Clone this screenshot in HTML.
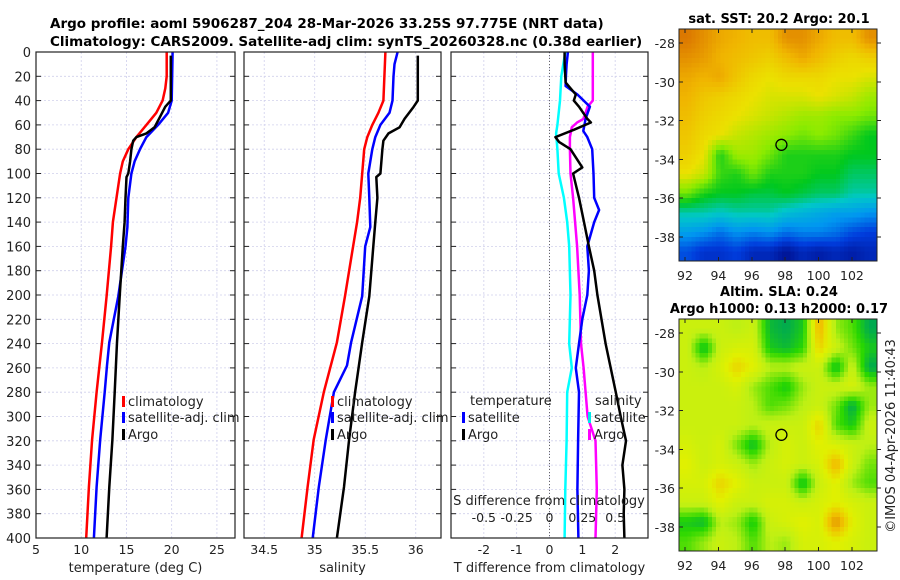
<!DOCTYPE html>
<html><head><meta charset="utf-8"><style>
html,body{margin:0;padding:0;background:#fff;}
svg{display:block;font-family:"DejaVu Sans","Liberation Sans",sans-serif;}
</style></head><body>
<svg id="fig" width="900" height="580" viewBox="0 0 900 580" xmlns="http://www.w3.org/2000/svg">
<text x="50" y="28" font-size="13.5" font-weight="bold">Argo profile: aoml 5906287_204 28-Mar-2026 33.25S 97.775E (NRT data)</text>
<text x="50" y="46" font-size="13.5" font-weight="bold">Climatology: CARS2009. Satellite-adj clim: synTS_20260328.nc (0.38d earlier)</text>
<g id="g"></g>
</svg>
<script>
// ---------- data ----------
var yTicks=[0,20,40,60,80,100,120,140,160,180,200,220,240,260,280,300,320,340,360,380,400];
var tTicks=[5,10,15,20,25];
var sTicks=[34.5,35,35.5,36];
var dTicks=[-2,-1,0,1,2];
var sdTicks=[-0.5,-0.25,0,0.25,0.5];
var sdTickLabels=["-0.5","-0.25","0","0.25","0.5"];
// temperature
var tClimDepth=[0,20,30,40,50,60,70,80,90,100,120,140,160,201,239,280,319,358,400];
var tClimVal=[19.45,19.45,19.3,19.0,18.3,17.2,16.1,15.2,14.6,14.3,13.9,13.5,13.3,12.8,12.3,11.7,11.2,10.85,10.55];
var tSatDepth=[0,40,50,60,70,80,90,100,120,144,160,201,239,258,280,319,358,400];
var tSatVal=[20.1,20.0,19.6,18.5,17.2,16.5,15.9,15.55,15.2,15.1,14.9,14.1,13.1,12.85,12.6,12.1,11.7,11.4];
var tArgoDepth=[3,40,45,55,62,67,70,73,80,90,100,103,120,140,160,201,239,280,319,358,400];
var tArgoVal=[19.9,19.9,19.3,18.6,18.1,17.2,16.1,15.75,15.55,15.4,15.2,15.0,14.9,14.8,14.6,14.25,13.95,13.7,13.45,13.1,12.8];
// salinity
var sClimDepth=[0,40,50,60,70,80,100,120,140,160,201,239,280,319,358,400];
var sClimVal=[35.70,35.68,35.63,35.57,35.52,35.49,35.47,35.45,35.42,35.38,35.30,35.22,35.09,34.99,34.93,34.87];
var sSatDepth=[0,10,20,40,50,60,70,80,100,120,144,160,201,239,258,280,319,358,400];
var sSatVal=[35.82,35.79,35.78,35.77,35.74,35.65,35.60,35.57,35.53,35.54,35.55,35.50,35.47,35.36,35.32,35.19,35.11,35.04,34.98];
var sArgoDepth=[3,40,45,55,62,67,73,80,100,103,120,140,160,201,239,280,319,358,400];
var sArgoVal=[36.02,36.02,35.98,35.89,35.84,35.73,35.68,35.67,35.65,35.61,35.62,35.60,35.58,35.54,35.47,35.40,35.34,35.29,35.22];
// differences
var dTSatDepth=[0,10,20,28,35,45,55,65,70,80,100,120,130,140,160,180,200,220,240,260,280,320,360,400];
var dTSatVal=[0.56,0.52,0.5,0.49,0.85,1.23,1.1,1.03,1.15,1.3,1.34,1.36,1.51,1.36,1.15,1.2,1.15,1.0,0.9,0.8,0.9,0.87,0.85,0.88];
var dTArgoDepth=[0,10,25,35,40,45,55,58,64,70,74,80,95,100,120,140,160,180,200,240,280,300,320,340,360,380,400];
var dTArgoVal=[0.46,0.46,0.49,0.8,0.74,0.9,1.15,1.26,0.74,0.18,0.29,0.64,1.0,0.72,0.9,1.05,1.2,1.36,1.46,1.71,2.02,2.17,2.33,2.22,2.28,2.26,2.28];
var dSSatDepth=[0,20,40,60,67,80,100,120,140,160,200,240,260,280,320,360,400];
var dSSatVal=[0.12,0.09,0.08,0.06,0.05,0.06,0.07,0.11,0.135,0.15,0.16,0.15,0.17,0.135,0.13,0.12,0.115];
var dSArgoDepth=[0,40,45,55,58,62,70,80,100,120,160,200,240,260,300,320,360,400];
var dSArgoVal=[0.33,0.33,0.29,0.26,0.21,0.17,0.155,0.155,0.16,0.18,0.21,0.23,0.24,0.26,0.29,0.35,0.36,0.35];
// maps (rows: lat -28 .. -39 ; cols: lon 92 .. 103)
var sstGrid=[
[21.2,21,20.8,20.7,20.6,20.6,21,21,20.8,20.6,20.6,21],
[21,20.9,20.7,20.6,20.5,20.4,20.6,20.8,20.6,20.4,20.3,20.4],
[20.8,20.7,20.8,20.5,20.3,20.2,20.3,20.3,20.3,20.2,20.2,20.1],
[20.7,20.5,20.4,20.3,20.2,20.1,20.1,20.1,20.2,20.1,20,19.8],
[20.6,20.4,20.3,20.2,20.1,20,19.9,19.8,19.8,19.7,19.7,19.6],
[20.5,20.3,20.2,20,19.9,19.8,19.7,19.6,19.7,19.6,19.4,19.2],
[20.4,20.2,19.3,19.8,19.8,19.6,19.3,19.3,19.3,19.3,19.2,19.2],
[20.2,20,19.4,19.3,19.6,19.3,19.3,19.3,19.2,19.2,19,19],
[19.6,19.3,19.2,19.2,19.1,19.1,19.2,19.1,19,19,18.8,18.8],
[18.8,18.8,18.7,18.8,18.8,18.8,18.6,18.5,18.4,18.3,18.3,18.2],
[18.3,18.2,18,18.2,18.1,18.2,18,18.1,18.1,18,17.8,17.7],
[17.8,17.6,17.6,17.7,17.5,17.5,17.3,17.5,17.4,17.5,17.4,17.5]];
var slaGrid=[
[.5,.5,.5,.45,.5,.15,.1,.2,.8,.4,.3,.1],
[.5,.15,.5,.55,.55,.2,.15,.25,.7,.5,.35,.2],
[.5,.45,.55,.7,.6,.45,.45,.5,.5,.15,.5,.1],
[.5,.5,.5,.55,.4,.3,.2,.4,.5,.5,.55,.4],
[.5,.5,.5,.5,.45,.3,.35,.45,.5,.35,.1,.4],
[.5,.5,.5,.5,.45,.5,.5,.5,.7,.3,.2,.5],
[.55,.5,.55,.35,.15,.45,.55,.5,.6,.55,.5,.45],
[.6,.5,.55,.5,.4,.5,.55,.5,.55,.8,.5,.35],
[.55,.55,.7,.6,.5,.5,.5,.15,.5,.6,.4,.3],
[.5,.5,.6,.5,.5,.55,.55,.5,.55,.6,.55,.5],
[.2,.15,.45,.4,.2,.5,.55,.6,.55,.9,.6,.5],
[.3,.4,.5,.45,.3,.45,.4,.55,.55,.6,.55,.5]];
var lonTicks=[92,94,96,98,100,102];
var latTicks=[-28,-30,-32,-34,-36,-38];
var argoLon=97.775, argoLat=-33.25;

// ---------- helpers ----------
var NS="http://www.w3.org/2000/svg";
var G=document.getElementById('g');
function mk(tag,attrs,parent){var e=document.createElementNS(NS,tag);for(var k in attrs)e.setAttribute(k,attrs[k]);(parent||G).appendChild(e);return e;}
var PT=52,PB=538;
function yD(d){return PT+(d/400)*(PB-PT);}
function lin(d0,d1,r0,r1){return function(v){return r0+(v-d0)/(d1-d0)*(r1-r0);};}
var panels=[
 {x0:36,x1:235,sc:lin(5,27,36,235),ticks:tTicks,labels:tTicks.map(String),label:'temperature (deg C)',name:'temperature-panel'},
 {x0:244,x1:441,sc:lin(34.3,36.25,244,441),ticks:sTicks,labels:sTicks.map(String),label:'salinity',name:'salinity-panel'},
 {x0:451,x1:648,sc:lin(-3,3,451,648),ticks:dTicks,labels:dTicks.map(String),label:'T difference from climatology',name:'difference-panel'}
];
panels.forEach(function(p,i){
  var g=mk('g',{});
  
  
  p.g=g;
  yTicks.forEach(function(t){
    var l=mk('line',{x1:p.x0,x2:p.x1,y1:yD(t),y2:yD(t),stroke:'#d0d0ec','stroke-width':0.8,'stroke-dasharray':'2,2'},g);
    
    
    var tk=mk('line',{x1:p.x0,x2:p.x0+5,y1:yD(t),y2:yD(t),stroke:'#222'},g);
    
    
    var tk2=mk('line',{x1:p.x1-5,x2:p.x1,y1:yD(t),y2:yD(t),stroke:'#222'},g);
    
    
    if(i===0){
      var tl=mk('text',{x:31,y:yD(t)+5,'text-anchor':'end','font-size':13,fill:'#222'},g);
      tl.textContent=t;
      
      
    }
  });
  p.ticks.forEach(function(t,j){
    var x=p.sc(t);
    var l=mk('line',{x1:x,x2:x,y1:PT,y2:PB,stroke:'#d0d0ec','stroke-width':0.8,'stroke-dasharray':'2,2'},g);
    
    
    var tl=mk('text',{x:x,y:554,'text-anchor':'middle','font-size':12.5,fill:'#222'},g);
    tl.textContent=p.labels[j];
    
    
  });
  var xl=mk('text',{x:(p.x0+p.x1)/2,y:572,'text-anchor':'middle','font-size':13,fill:'#222'},g);
  xl.textContent=p.label;
  
  
});
var zl=mk('line',{x1:panels[2].sc(0),x2:panels[2].sc(0),y1:PT,y2:PB,stroke:'#666','stroke-width':1,'stroke-dasharray':'1,2'},panels[2].g);



function series(p,depths,vals,color,name,sc){
  var f=sc||p.sc;
  var pts=depths.map(function(d,k){return f(vals[k]).toFixed(1)+','+yD(d).toFixed(1);}).join(' ');
  var pl=mk('polyline',{points:pts,fill:'none',stroke:color,'stroke-width':2.5,'stroke-linejoin':'round'},p.g);
  
  
}
series(panels[0],tClimDepth,tClimVal,'#ff0000','temp-climatology-line');
series(panels[0],tSatDepth,tSatVal,'#0000ff','temp-satellite-adj-line');
series(panels[0],tArgoDepth,tArgoVal,'#000000','temp-argo-line');
series(panels[1],sClimDepth,sClimVal,'#ff0000','sal-climatology-line');
series(panels[1],sSatDepth,sSatVal,'#0000ff','sal-satellite-adj-line');
series(panels[1],sArgoDepth,sArgoVal,'#000000','sal-argo-line');
var sdScale=lin(-0.75,0.75,451,648);
series(panels[2],dSSatDepth,dSSatVal,'#00ffff','sal-diff-satellite-line',sdScale);
series(panels[2],dSArgoDepth,dSArgoVal,'#ff00ff','sal-diff-argo-line',sdScale);
series(panels[2],dTSatDepth,dTSatVal,'#0000ff','temp-diff-satellite-line');
series(panels[2],dTArgoDepth,dTArgoVal,'#000000','temp-diff-argo-line');

var st=mk('text',{x:549,y:505,'text-anchor':'middle','font-size':13,fill:'#222'},panels[2].g);
st.textContent='S difference from climatology';


sdTicks.forEach(function(t,j){
  var tl=mk('text',{x:sdScale(t),y:522,'text-anchor':'middle','font-size':12.5,fill:'#222'},panels[2].g);
  tl.textContent=sdTickLabels[j];
  
  
});

panels.forEach(function(p){
  var r=mk('rect',{x:p.x0,y:PT,width:p.x1-p.x0,height:PB-PT,fill:'none',stroke:'#222','stroke-width':1.2},p.g);
  
  
});

function legendEntry(g,x,y,color,label){
  var b=mk('rect',{x:x,y:y-10,width:3,height:11,fill:color},g);
  
  
  var t=mk('text',{x:x+6,y:y,'font-size':13,fill:'#222'},g);
  t.textContent=label;
  
  
}
legendEntry(panels[0].g,122,406,'#ff0000','climatology');
legendEntry(panels[0].g,122,422,'#0000ff','satellite-adj. clim');
legendEntry(panels[0].g,122,439,'#000000','Argo');
legendEntry(panels[1].g,331,406,'#ff0000','climatology');
legendEntry(panels[1].g,331,422,'#0000ff','satellite-adj. clim');
legendEntry(panels[1].g,331,439,'#000000','Argo');
var lt=mk('text',{x:470,y:405,'font-size':13,fill:'#222'},panels[2].g);
lt.textContent='temperature';


legendEntry(panels[2].g,462,422,'#0000ff','satellite');
legendEntry(panels[2].g,462,439,'#000000','Argo');
var ls=mk('text',{x:595,y:405,'font-size':13,fill:'#222'},panels[2].g);
ls.textContent='salinity';


legendEntry(panels[2].g,588,422,'#00e8e8','satellite');
legendEntry(panels[2].g,588,439,'#ff00ff','Argo');

// ---------- maps ----------
function interp(stops,v){
  if(v<=stops[0][0])return stops[0][1];
  for(var i=1;i<stops.length;i++){
    if(v<=stops[i][0]){
      var a=stops[i-1],b=stops[i],t=(v-a[0])/(b[0]-a[0]);
      return [0,1,2].map(function(k){return Math.round(a[1][k]+(b[1][k]-a[1][k])*t);});
    }
  }
  return stops[stops.length-1][1];
}
var sstStops=[[17.3,[0,20,150]],[17.7,[0,60,220]],[18.2,[0,150,240]],[18.7,[0,200,200]],[19.2,[0,200,30]],[19.7,[140,235,0]],[20.2,[235,225,0]],[20.7,[240,180,0]],[21.2,[220,120,0]]];
var slaStops=[[0.1,[0,170,80]],[0.25,[40,215,0]],[0.45,[190,240,20]],[0.6,[225,240,0]],[0.75,[240,195,0]],[0.95,[225,130,0]]];
function sample(grid,fr,fc){
  var R=grid.length,C=grid[0].length;
  fr=Math.max(0,Math.min(R-1,fr));fc=Math.max(0,Math.min(C-1,fc));
  var r0=Math.floor(fr),c0=Math.floor(fc),r1=Math.min(R-1,r0+1),c1=Math.min(C-1,c0+1);
  var tr=fr-r0,tc=fc-c0;
  var a=grid[r0][c0]*(1-tc)+grid[r0][c1]*tc, b=grid[r1][c0]*(1-tc)+grid[r1][c1]*tc;
  return a*(1-tr)+b*tr;
}
function drawMap(name,grid,stops,y0,y1,lonLabelsY){
  var x0=679,x1=877;
  var g=mk('g',{'shape-rendering':'crispEdges'});
  
  
  var lonS=lin(91.64,103.5,x0,x1), latS=lin(-27.28,-39.24,y0,y1);
  var rows=grid.length, cols=grid[0].length, SUB=4;
  var cw=(x1-x0)/(cols*SUB), ch=(y1-y0)/(rows*SUB);
  for(var r=0;r<rows*SUB;r++)for(var c=0;c<cols*SUB;c++){
    var v=sample(grid,(r+0.5)/SUB-0.5,(c+0.5)/SUB-0.5);
    var col=interp(stops,v);
    var cell=mk('rect',{x:(x0+c*cw).toFixed(2),y:(y0+r*ch).toFixed(2),width:(cw+0.5).toFixed(2),height:(ch+0.5).toFixed(2),fill:'rgb('+col.join(',')+')'},g);
    
    
  }
  var fr=mk('rect',{x:x0,y:y0,width:x1-x0,height:y1-y0,fill:'none',stroke:'#222','stroke-width':1,'shape-rendering':'auto'},g);
  
  
  lonTicks.forEach(function(t){
    var x=lonS(t);
    mk('line',{x1:x,x2:x,y1:y1,y2:y1-4,stroke:'#222'},g);
    mk('line',{x1:x,x2:x,y1:y0,y2:y0+4,stroke:'#222'},g);
    var tl=mk('text',{x:x,y:lonLabelsY,'text-anchor':'middle','font-size':12.5,fill:'#222'},g);
    tl.textContent=t;
    
    
  });
  latTicks.forEach(function(t){
    var y=latS(t);
    mk('line',{x1:x0,x2:x0+4,y1:y,y2:y,stroke:'#222'},g);
    mk('line',{x1:x1,x2:x1+4,y1:y,y2:y,stroke:'#222'},g);
    var tl=mk('text',{x:675,y:y+5,'text-anchor':'end','font-size':12.5,fill:'#222'},g);
    tl.textContent=t;
    
    
  });
  var m=mk('circle',{cx:lonS(argoLon),cy:latS(argoLat),r:5.5,fill:'none',stroke:'#000','stroke-width':1.3,'shape-rendering':'auto'},g);
  
  
}
drawMap('sst-map',sstGrid,sstStops,29,261,280);
drawMap('sla-map',slaGrid,slaStops,319,551,570);
function ttl(txt,y,name){
  var t=mk('text',{x:779,y:y,'text-anchor':'middle','font-size':13,'font-weight':'bold',fill:'#000'});
  t.textContent=txt;
  
  
}
ttl('sat. SST: 20.2 Argo: 20.1',23,'sst-map-title');
ttl('Altim. SLA: 0.24',296,'sla-map-title');
ttl('Argo h1000: 0.13 h2000: 0.17',313,'sla-map-subtitle');
var cp=mk('text',{x:0,y:0,'text-anchor':'middle','font-size':13,fill:'#222',transform:'translate(895,436) rotate(-90)'});
cp.textContent='©IMOS 04-Apr-2026 11:40:43';


</script>
</body></html>
